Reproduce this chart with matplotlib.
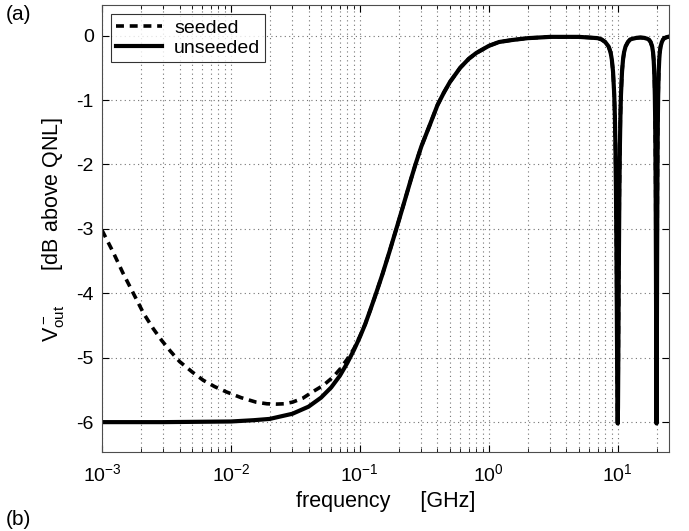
import numpy as np
import matplotlib
matplotlib.use('Agg')
import matplotlib.pyplot as plt
from matplotlib.ticker import LogLocator, NullFormatter

plt.rcParams['font.family'] = ['Liberation Sans', 'DejaVu Sans']
plt.rcParams['mathtext.fontset'] = 'custom'
plt.rcParams['mathtext.rm'] = 'Liberation Sans'
plt.rcParams['mathtext.it'] = 'Liberation Sans:italic'
plt.rcParams['mathtext.sf'] = 'Liberation Sans'
plt.rcParams['axes.unicode_minus'] = False

# unseeded curve [GHz, dB]
f_unseeded = [1e-3, 3e-3, 1e-2, 1.5e-2, 2e-2, 3e-2, 4e-2, 5e-2, 6e-2, 7e-2, 8e-2, 9e-2,
              0.1, 0.11, 0.12, 0.13, 0.14, 0.15, 0.17, 0.2, 0.22, 0.25, 0.27, 0.3,
              0.35, 0.4, 0.45, 0.5, 0.6, 0.7, 0.8, 1.0, 1.2, 1.5, 2.0, 3.0,
              5.0, 6.0, 7.0, 7.5, 8.0, 8.5, 8.8, 9.0, 9.2, 9.4, 9.5, 9.6, 9.7, 9.8,
              9.85, 9.9, 9.95, 10.0, 10.05, 10.1, 10.15, 10.2, 10.3, 10.4, 10.5,
              10.6, 10.8, 11.0, 11.2, 11.5, 12.0, 12.5, 13.0, 14.0, 15.0, 16.0,
              17.0, 17.5, 18.0, 18.5, 18.8, 19.0, 19.2, 19.4, 19.5, 19.6, 19.7,
              19.8, 19.85, 19.9, 19.95, 20.0, 20.05, 20.1, 20.15, 20.2, 20.3,
              20.4, 20.5, 20.6, 20.8, 21.0, 21.2, 21.5, 22.0, 22.5, 23.0, 24.0, 25.0]
v_unseeded = [-6.0, -6.0, -5.99, -5.97, -5.95, -5.87, -5.76, -5.62, -5.46, -5.28, -5.08, -4.88,
              -4.68, -4.48, -4.27, -4.07, -3.88, -3.70, -3.35, -2.88, -2.60, -2.22, -2.0, -1.72,
              -1.38, -1.08, -0.88, -0.72, -0.50, -0.36, -0.27, -0.16, -0.10, -0.07, -0.04, -0.02,
              -0.02, -0.03, -0.04, -0.06, -0.10, -0.17, -0.26, -0.37, -0.56, -0.92, -1.23, -1.71, -2.46, -3.62,
              -4.36, -5.13, -5.77, -6.02, -5.77, -5.13, -4.36, -3.62, -2.46, -1.71, -1.23,
              -0.92, -0.56, -0.37, -0.26, -0.17, -0.10, -0.06, -0.05, -0.035, -0.03, -0.035,
              -0.05, -0.065, -0.10, -0.17, -0.26, -0.37, -0.56, -0.92, -1.23, -1.71, -2.46,
              -3.62, -4.36, -5.13, -5.77, -6.02, -5.77, -5.13, -4.36, -3.62, -2.46,
              -1.71, -1.23, -0.92, -0.56, -0.37, -0.26, -0.17, -0.10, -0.06, -0.04, -0.025, -0.016]

# seeded curve, separate from unseeded only below ~0.1 GHz
f_seeded = [1e-3, 1.22e-3, 1.45e-3, 1.7e-3, 2.1e-3, 2.5e-3, 2.9e-3, 3.4e-3, 4.0e-3,
            5.0e-3, 6.1e-3, 7.5e-3, 9.2e-3, 1.2e-2, 1.57e-2, 1.9e-2, 2.25e-2, 2.6e-2,
            3.0e-2, 3.6e-2, 4.3e-2, 5.2e-2, 6.2e-2, 7.0e-2, 8.0e-2, 9.0e-2, 0.1]
v_seeded = [-3.02, -3.36, -3.68, -3.95, -4.31, -4.55, -4.73, -4.90, -5.06,
            -5.22, -5.35, -5.45, -5.53, -5.62, -5.69, -5.715, -5.72, -5.715,
            -5.69, -5.63, -5.53, -5.43, -5.30, -5.18, -5.02, -4.86, -4.67]

# seeded above 0.1 GHz is the same as unseeded
f_seed_all = f_seeded + [f for f in f_unseeded if f > 0.1]
v_seed_all = v_seeded + [v for f, v in zip(f_unseeded, v_unseeded) if f > 0.1]

fig = plt.figure(figsize=(6.89, 5.31), dpi=100)
ax = fig.add_axes([0.148, 0.148, 0.823, 0.842])

ax.semilogx(f_seed_all, v_seed_all, 'k--', lw=2.6, dashes=(2.2, 1.6), label='seeded')
ax.semilogx(f_unseeded, v_unseeded, 'k-', lw=3.0, label='unseeded')

ax.set_xlim(1e-3, 25)
ax.set_ylim(-6.47, 0.47)
ax.set_yticks([0, -1, -2, -3, -4, -5, -6])
ax.xaxis.set_major_locator(LogLocator(base=10, numticks=10))
ax.xaxis.set_minor_locator(LogLocator(base=10, subs=np.arange(2, 10), numticks=50))
ax.xaxis.set_minor_formatter(NullFormatter())

ax.grid(True, which='major', ls=(0, (1, 3)), color='0.45', lw=0.8)
ax.grid(True, which='minor', axis='x', ls=(0, (1, 3)), color='0.45', lw=0.8)
ax.tick_params(which='both', direction='in', top=True, right=True, labelsize=14)
ax.tick_params(axis='x', which='major', pad=8)
ax.tick_params(axis='y', which='major', pad=6)
ax.tick_params(which='major', length=5)
ax.tick_params(which='minor', length=3)
for s in ax.spines.values():
    s.set_color('0.3')

ax.set_xlabel('frequency     [GHz]', fontsize=15.5, labelpad=4)
ax.set_ylabel(r'V$_{\rm out}^{\rm -}$      [dB above QNL]', fontsize=15.5, labelpad=7)

leg = ax.legend(loc='upper left', fontsize=14, frameon=True, fancybox=False,
                handlelength=2.4, borderaxespad=0.45, borderpad=0.25,
                labelspacing=0.15, handletextpad=0.6)
leg.get_frame().set_edgecolor('k')
leg.get_frame().set_linewidth(0.8)

fig.text(0.008, 0.962, '(a)', fontsize=15)
fig.text(0.008, 0.012, '(b)', fontsize=15)

fig.savefig('out.png', dpi=100)
